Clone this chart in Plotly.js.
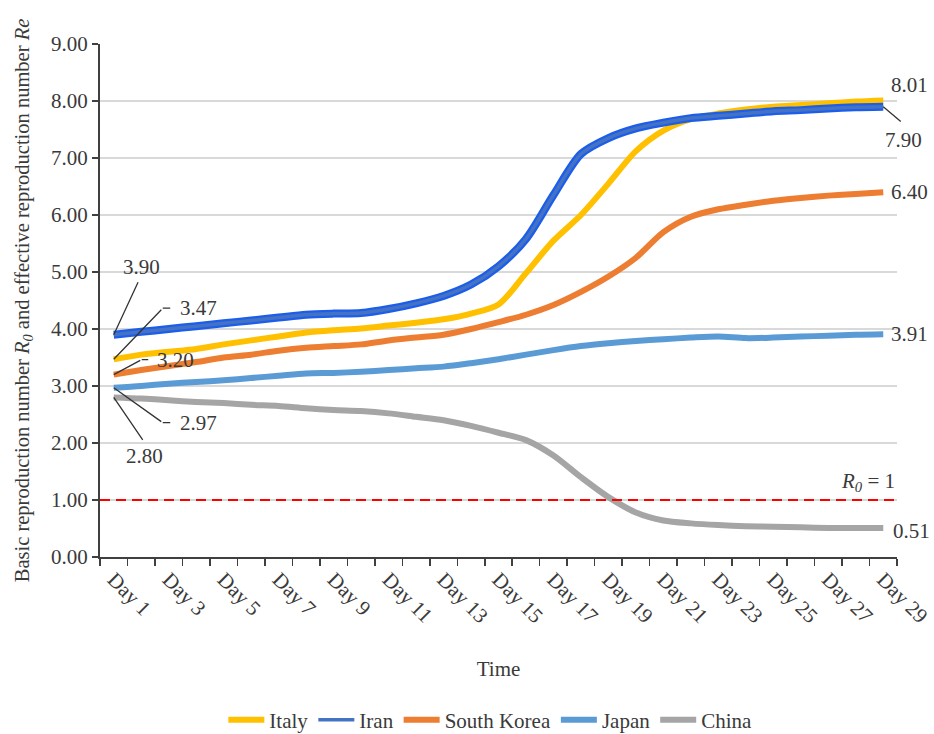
<!DOCTYPE html>
<html>
<head>
<meta charset="utf-8">
<script src="https://cdn.plot.ly/plotly-3.0.1.min.js"></script>
<style>html,body{margin:0;padding:0;background:#fff;}#chart{width:934px;height:734px;}</style>
</head>
<body>
<div id="chart"></div>
<script>
const days = ["Day 1","Day 2","Day 3","Day 4","Day 5","Day 6","Day 7","Day 8","Day 9","Day 10",
  "Day 11","Day 12","Day 13","Day 14","Day 15","Day 16","Day 17","Day 18","Day 19","Day 20",
  "Day 21","Day 22","Day 23","Day 24","Day 25","Day 26","Day 27","Day 28","Day 29"];
const tickLabels = ["Day 1","","Day 3","","Day 5","","Day 7","","Day 9","",
  "Day 11","","Day 13","","Day 15","","Day 17","","Day 19","",
  "Day 21","","Day 23","","Day 25","","Day 27","","Day 29"];
const italy = [3.47,3.55,3.60,3.65,3.73,3.80,3.87,3.94,3.98,4.01,4.06,4.11,4.17,4.27,4.43,4.98,5.55,6.00,6.55,7.12,7.48,7.68,7.78,7.85,7.90,7.93,7.96,7.99,8.01];
const iran = [3.90,3.95,4.00,4.05,4.10,4.15,4.20,4.25,4.27,4.28,4.35,4.45,4.58,4.78,5.10,5.58,6.35,7.07,7.35,7.52,7.62,7.70,7.74,7.78,7.82,7.84,7.87,7.89,7.90];
const southKorea = [3.20,3.28,3.35,3.42,3.50,3.55,3.62,3.67,3.70,3.73,3.80,3.85,3.90,4.00,4.12,4.25,4.42,4.65,4.92,5.25,5.70,5.97,6.10,6.18,6.25,6.30,6.34,6.37,6.40];
const japan = [2.97,3.00,3.04,3.07,3.10,3.14,3.18,3.22,3.23,3.25,3.28,3.31,3.34,3.40,3.47,3.55,3.63,3.70,3.75,3.79,3.82,3.85,3.87,3.84,3.85,3.87,3.88,3.90,3.91];
const china = [2.80,2.78,2.75,2.72,2.70,2.67,2.65,2.61,2.58,2.56,2.52,2.46,2.40,2.30,2.18,2.05,1.78,1.40,1.05,0.78,0.64,0.59,0.56,0.54,0.53,0.52,0.51,0.51,0.51];
const threshold = 1;

const FONT = "Liberation Serif, Times New Roman, serif";
const TXT = "#3a3a3a";
const first = days[0], last = days[days.length-1];
const n = days.length - 1;

function line(name, y, color, width, showlegend) {
  return {type:"scatter", mode:"lines", name:name, x:days, y:y, showlegend:showlegend,
    line:{color:color, width:width, shape:"spline", smoothing:0.8}, hoverinfo:"skip"};
}
const traces = [
  line("Italy", italy, "#FFC000", 6, true),
  line("Iran-outer", iran, "#1C5EEA", 8, false),
  line("Iran", iran, "#4472C4", 3.5, true),
  line("South Korea", southKorea, "#ED7D31", 6, true),
  line("Japan", japan, "#5B9BD5", 6, true),
  line("China", china, "#A5A5A5", 6, true)
];

const lab = {font:{family:FONT, size:21, color:TXT}, showarrow:false, xref:"x", yref:"y"};
const leader = {text:"", showarrow:true, arrowhead:0, arrowwidth:1.3, arrowcolor:"#333", xref:"x", yref:"y", axref:"pixel", ayref:"pixel", standoff:0, startstandoff:0};
const annotations = [
  // start labels
  Object.assign({}, leader, {x:first, y:iran[0], ax:25, ay:-54}),
  Object.assign({}, lab, {x:first, y:iran[0], text:iran[0].toFixed(2), xshift:28, yshift:68}),
  Object.assign({}, leader, {x:first, y:italy[0], ax:49, ay:-51}),
  Object.assign({}, leader, {x:first, y:italy[0], xshift:49, yshift:51, ax:9, ay:0}),
  Object.assign({}, lab, {x:first, y:italy[0], text:italy[0].toFixed(2), xanchor:"left", xshift:64, yshift:51}),
  Object.assign({}, leader, {x:first, y:southKorea[0], ax:28, ay:-15}),
  Object.assign({}, leader, {x:first, y:southKorea[0], xshift:28, yshift:15, ax:8, ay:0}),
  Object.assign({}, lab, {x:first, y:southKorea[0], text:southKorea[0].toFixed(2), xanchor:"left", xshift:41, yshift:15}),
  Object.assign({}, leader, {x:first, y:japan[0], ax:49, ay:35}),
  Object.assign({}, leader, {x:first, y:japan[0], xshift:49, yshift:-35, ax:9, ay:0}),
  Object.assign({}, lab, {x:first, y:japan[0], text:japan[0].toFixed(2), xanchor:"left", xshift:64, yshift:-35}),
  Object.assign({}, leader, {x:first, y:china[0], ax:30, ay:44}),
  Object.assign({}, lab, {x:first, y:china[0], text:china[0].toFixed(2), xshift:31, yshift:-59}),
  // end labels
  Object.assign({}, lab, {x:last, y:italy[n], text:italy[n].toFixed(2), xanchor:"left", xshift:6, yshift:15}),
  Object.assign({}, leader, {x:last, y:iran[n], ax:19, ay:16}),
  Object.assign({}, lab, {x:last, y:iran[n], text:iran[n].toFixed(2), xshift:20, yshift:-33}),
  Object.assign({}, lab, {x:last, y:southKorea[n], text:southKorea[n].toFixed(2), xanchor:"left", xshift:6, yshift:0}),
  Object.assign({}, lab, {x:last, y:japan[n], text:japan[n].toFixed(2), xanchor:"left", xshift:6, yshift:0}),
  Object.assign({}, lab, {x:last, y:china[n], text:china[n].toFixed(2), xanchor:"left", xshift:8, yshift:-3}),
  // threshold label
  {xref:"paper", yref:"y", x:1, y:threshold, xanchor:"right", yanchor:"bottom", yshift:3, showarrow:false,
   text:"<i>R<sub>0</sub></i> = 1", font:{family:FONT, size:21, color:TXT}}
];

const layout = {
  width:934, height:734,
  margin:{l:100, r:37, t:44, b:177},
  paper_bgcolor:"#fff", plot_bgcolor:"#fff",
  font:{family:FONT, color:TXT, size:21},
  showlegend:true,
  legend:{orientation:"h", xref:"container", yref:"container", x:0.525, xanchor:"center", y:0.019, yanchor:"middle",
    font:{family:FONT, size:21, color:TXT}, traceorder:"normal", itemwidth:36},
  xaxis:{type:"category", range:[-0.5, days.length-0.5], tickmode:"array", tickvals:days, ticktext:tickLabels,
    tickson:"boundaries", ticks:"outside", ticklen:7, tickwidth:1.5, tickcolor:"#404040",
    showline:true, linecolor:"#404040", linewidth:2, showgrid:false, zeroline:false,
    tickangle:45, tickfont:{family:FONT, size:21, color:TXT}, automargin:false,
    title:{text:"Time", font:{family:FONT, size:21, color:TXT}, standoff:34}},
  yaxis:{range:[0,9], dtick:1, tick0:0, tickformat:".2f", ticks:"outside", ticklen:6, tickwidth:1.5, tickcolor:"#404040",
    showline:true, linecolor:"#404040", linewidth:2, showgrid:true, gridcolor:"#d9d9d9", gridwidth:2,
    zeroline:false, tickfont:{family:FONT, size:21, color:TXT}, automargin:false,
    title:{text:"Basic reproduction number <i>R<sub>0</sub></i> and effective reproduction number <i>Re</i>",
      font:{family:FONT, size:20.5, color:TXT}, standoff:16}},
  shapes:[{type:"line", xref:"paper", yref:"y", x0:0, x1:1, y0:threshold, y1:threshold, layer:"above",
    line:{color:"#FF0000", width:2, dash:"10px,6px"}}],
  annotations:annotations
};
Plotly.newPlot("chart", traces, layout, {displayModeBar:false, staticPlot:true});
</script>
</body>
</html>
